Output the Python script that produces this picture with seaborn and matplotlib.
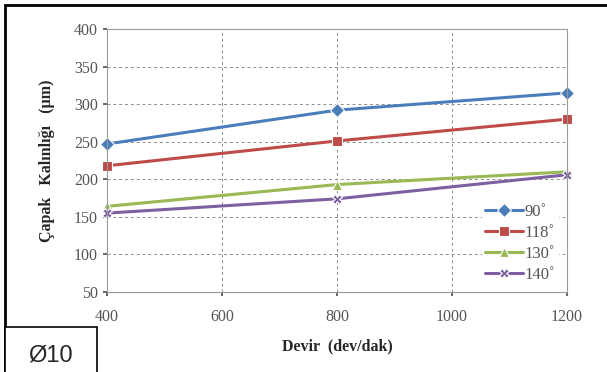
import matplotlib

matplotlib.use("Agg")
import matplotlib.pyplot as plt
import pandas as pd
import seaborn as sns
from matplotlib.patches import Rectangle

# Data
devir = [400, 800, 1200]
angles = ["90˚", "118˚", "130˚", "140˚"]
capak_90 = [247, 292, 315]
capak_118 = [218, 251, 280]
capak_130 = [164, 193, 210]
capak_140 = [155, 174, 206]

colors = ["#4A7EBB", "#BE4B48", "#98B954", "#7D60A0"]
markers = ["D", "s", "^", "X"]

df = pd.DataFrame({
    "devir": devir * 4,
    "capak": capak_90 + capak_118 + capak_130 + capak_140,
    "aci": [a for a in angles for _ in devir],
})

sns.set_theme(style="whitegrid")
plt.rcParams["font.family"] = ["Liberation Serif", "DejaVu Serif"]

fig = plt.figure(figsize=(6.07, 3.72), dpi=100)
ax = fig.add_axes([107 / 607, 1 - 292 / 372, 460 / 607, 263 / 372])

sns.lineplot(data=df, x="devir", y="capak", hue="aci", style="aci",
             palette=colors, markers=markers, dashes=False, lw=2.2,
             markersize=7, markeredgewidth=0.8, ax=ax)
for ln in ax.lines:
    ln.set_clip_on(False)

ax.set_xlim(400, 1200)
ax.set_ylim(50, 400)
ax.set_xticks([400, 600, 800, 1000, 1200])
ax.set_yticks(range(50, 401, 50))
ax.grid(True, color="#8C8C8C", linestyle=(0, (3, 3)), lw=0.7)
for s in ax.spines.values():
    s.set_color("#9A9A9A")
    s.set_linewidth(0.8)
ax.tick_params(axis="both", labelsize=11.5, colors="#555555", length=3,
               direction="out", left=True, bottom=True)
ax.tick_params(axis="x", pad=9)
ax.tick_params(labelcolor="#555555")
ax.set_xlabel("Devir  (dev/dak)", fontsize=11.5, fontweight="bold", labelpad=10)
ax.set_ylabel("Çapak   Kalınlığı   (µm)", fontsize=11.5, fontweight="bold", labelpad=14)

leg = ax.legend(loc="lower right", frameon=True, fontsize=12, handlelength=2.3,
                handletextpad=0.1, borderpad=0.2, labelspacing=0.3,
                bbox_to_anchor=(1.0, -0.01))
leg.get_frame().set_edgecolor("none")
leg.get_frame().set_facecolor("white")
leg.get_frame().set_alpha(1)
for t in leg.get_texts():
    t.set_color("#555555")

# outer frame and label box
fig.add_artist(Rectangle((5 / 607, -0.05), 1.2, (372 - 5) / 372 + 0.05,
                         transform=fig.transFigure, fill=False,
                         edgecolor="black", lw=2))
fig.add_artist(Rectangle((5 / 607, -0.05), 92 / 607, (372 - 327) / 372 + 0.05,
                         transform=fig.transFigure, facecolor="white",
                         edgecolor="black", lw=1.2))
fig.text(50 / 607, 1 - 355 / 372, "Ø10", fontsize=17, ha="center", va="center",
         family=["Liberation Sans", "DejaVu Sans"])

fig.savefig("out.png", dpi=100)
